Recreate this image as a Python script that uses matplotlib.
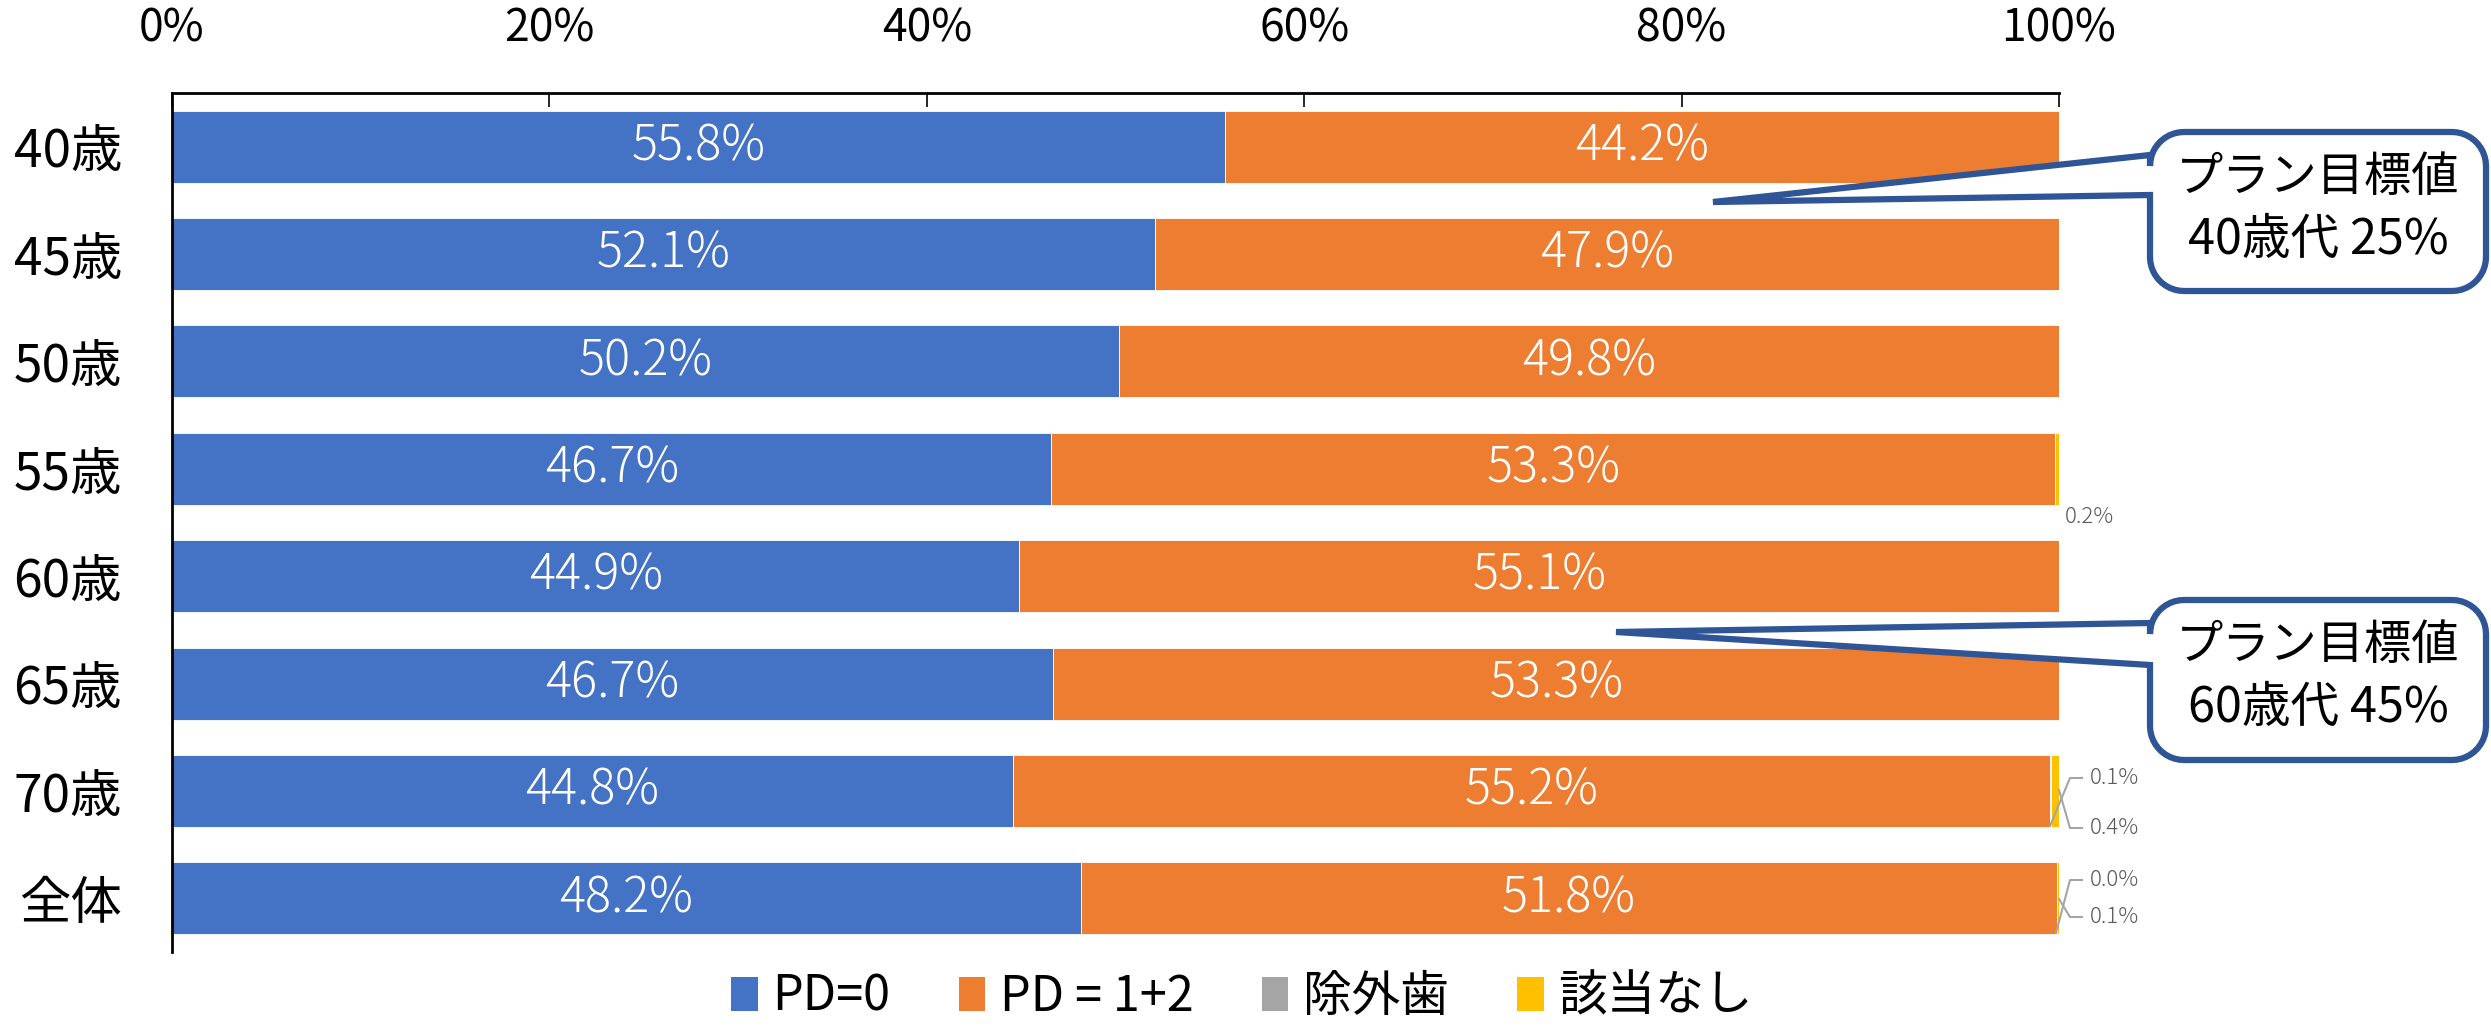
import numpy as np
import matplotlib
matplotlib.use("Agg")
from matplotlib import pyplot as plt
from matplotlib.patches import Polygon, Patch
from matplotlib.lines import Line2D

plt.rcParams['font.family'] = ['Noto Sans CJK JP', 'DejaVu Sans']

categories = ['40歳', '45歳', '50歳', '55歳', '60歳', '65歳', '70歳', '全体']
pd0 = [55.8, 52.1, 50.2, 46.7, 44.9, 46.7, 44.8, 48.2]
pd12 = [44.2, 47.9, 49.8, 53.3, 55.1, 53.3, 55.2, 51.8]
excluded = [0.0, 0.0, 0.0, 0.0, 0.0, 0.0, 0.1, 0.0]
no_data = [0.0, 0.0, 0.0, 0.2, 0.0, 0.0, 0.4, 0.1]
series_names = ['PD=0', 'PD = 1+2', '除外歯', '該当なし']
colors = ['#4472C4', '#ED7D31', '#A5A5A5', '#FFC000']
xticks = [0, 20, 40, 60, 80, 100]
callouts = [('プラン目標値', '40歳代 25%'), ('プラン目標値', '60歳代 45%')]

W, H = 2491, 1029


def px(x, y):
    # pixel position (top-left origin) -> figure fraction
    return x / W, 1 - y / H


def callout(fig, x0, y0, x1, y1, yb0, yb1, tip, r=34):
    pts = []

    def arc(cx, cy, a0, a1):
        for a in np.linspace(np.radians(a0), np.radians(a1), 12):
            pts.append((cx + r * np.cos(a), cy + r * np.sin(a)))

    arc(x1 - r, y0 + r, -90, 0)
    arc(x1 - r, y1 - r, 0, 90)
    arc(x0 + r, y1 - r, 90, 180)
    pts.append((x0, yb1))
    pts.append(tip)
    pts.append((x0, yb0))
    arc(x0 + r, y0 + r, 180, 270)
    poly = Polygon([px(*p) for p in pts], closed=True, transform=fig.transFigure,
                   facecolor='white', edgecolor='#2F5597', linewidth=4.5,
                   joinstyle='miter', clip_on=False)
    fig.add_artist(poly)


fig = plt.figure(figsize=(W / 100, H / 100), dpi=100)
ax = fig.add_axes([172 / W, 1 - 952 / H, (2059 - 172) / W, (952 - 93) / H])

data = np.array([pd0, pd12, excluded, no_data])
share = data / data.sum(axis=0) * 100
y = np.arange(len(categories))
left = np.zeros(len(categories))
for i in range(4):
    ax.barh(y, share[i], left=left, height=0.67, color=colors[i],
            edgecolor='white', linewidth=0.6, label=series_names[i])
    if i < 2:
        for j in range(len(categories)):
            ax.text(left[j] + share[i][j] / 2, y[j], f'{data[i][j]:.1f}%',
                    ha='center', va='center', color='white', fontsize=35,
                    fontweight='light')
    left += share[i]

ax.set_xlim(0, 100)
ax.set_ylim(len(categories) - 0.5, -0.5)
ax.set_yticks(y)
ax.set_yticklabels(categories, fontsize=37)
ax.set_xticks(xticks)
ax.set_xticklabels([f'{t}%' for t in xticks], fontsize=32)
ax.xaxis.tick_top()
ax.tick_params(axis='x', direction='in', length=10, width=1.2, pad=30)
ax.tick_params(axis='y', length=0, pad=36)
for s in ['right', 'bottom']:
    ax.spines[s].set_visible(False)
for s in ['top', 'left']:
    ax.spines[s].set_linewidth(2)

# small labels
gray_txt = '#595959'
gray_ln = '#A5A5A5'
small = dict(fontsize=16, color=gray_txt, ha='left', va='center', fontweight='light')
fig.text(*px(2065, 517), f'{no_data[3]:.1f}%', **small)
fig.add_artist(Line2D(*zip(px(2050, 826), px(2070, 778), px(2082, 778)),
                      transform=fig.transFigure, color=gray_ln, lw=1.5))
fig.add_artist(Line2D(*zip(px(2059, 790), px(2070, 828), px(2082, 828)),
                      transform=fig.transFigure, color=gray_ln, lw=1.5))
fig.text(*px(2090, 778), f'{excluded[6]:.1f}%', **small)
fig.text(*px(2090, 828), f'{no_data[6]:.1f}%', **small)
fig.add_artist(Line2D(*zip(px(2056, 933), px(2070, 880), px(2082, 880)),
                      transform=fig.transFigure, color=gray_ln, lw=1.5))
fig.add_artist(Line2D(*zip(px(2059, 899), px(2070, 917), px(2082, 917)),
                      transform=fig.transFigure, color=gray_ln, lw=1.5))
fig.text(*px(2090, 880), f'{excluded[7]:.1f}%', **small)
fig.text(*px(2090, 917), f'{no_data[7]:.1f}%', **small)

# callouts
callout(fig, 2150, 132, 2486, 291, 155, 195, (1713, 202))
callout(fig, 2150, 600, 2486, 760, 623, 665, (1616, 632))
for (l1, l2), yc in zip(callouts, [132, 600]):
    fig.text(*px(2318, yc + 46), l1, fontsize=34, ha='center', va='center')
    fig.text(*px(2318, yc + 108), l2, fontsize=35, ha='center', va='center')

handles = [Patch(facecolor=c) for c in colors]
fig.legend(handles, series_names, loc='center', bbox_to_anchor=(1242 / W, 1 - 997 / H),
           ncol=4, frameon=False, fontsize=35, handlelength=0.55, handleheight=0.7,
           handletextpad=0.3, columnspacing=1.4)

fig.savefig('out.png', dpi=100)
